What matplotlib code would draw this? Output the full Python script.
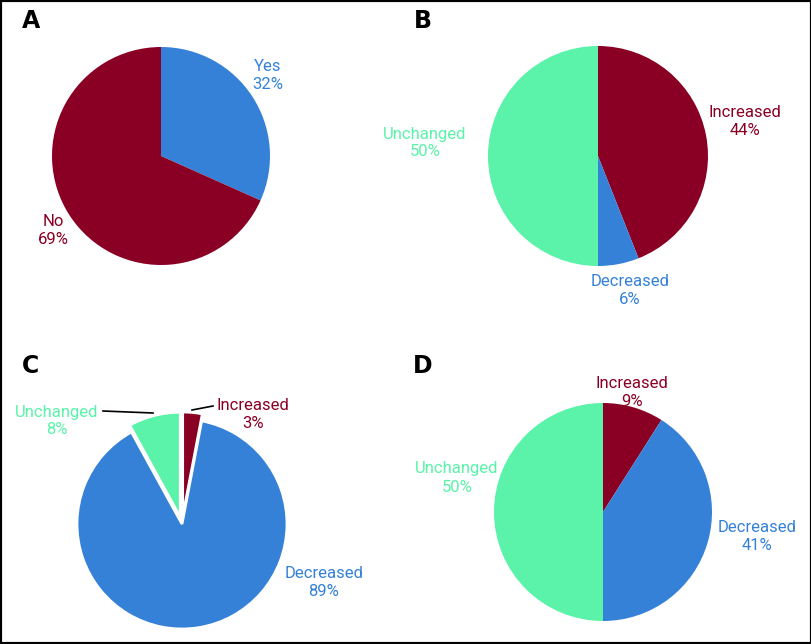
import matplotlib
matplotlib.use('Agg')
import matplotlib.pyplot as plt
from matplotlib.patches import Rectangle

# colours
RED = '#8A0025'
BLUE = '#3581D8'
GREEN = '#5BF2AA'

# Panel A: any change?
a_labels = ['Yes', 'No']
a_values = [32, 69]
a_colors = [BLUE, RED]

# Panel B
b_labels = ['Increased', 'Decreased', 'Unchanged']
b_values = [44, 6, 50]
b_colors = [RED, BLUE, GREEN]

# Panel C
c_labels = ['Increased', 'Decreased', 'Unchanged']
c_values = [3, 89, 8]
c_colors = [RED, BLUE, GREEN]

# Panel D
d_labels = ['Increased', 'Decreased', 'Unchanged']
d_values = [9, 41, 50]
d_colors = [RED, BLUE, GREEN]

W, H = 812, 644
plt.rcParams['font.family'] = ['Roboto', 'DejaVu Sans']

fig = plt.figure(figsize=(W / 100, H / 100), dpi=100)
ax = fig.add_axes([0, 0, 1, 1])


def py(y):
    # pixel row (from top) -> data y
    return H - y


def draw_pie(values, colors, cx, cy, r, explode=None, edge=None):
    wp = {'linewidth': 0}
    if edge:
        wp = {'edgecolor': 'white', 'linewidth': edge}
    ax.pie(values, colors=colors, startangle=90, counterclock=False,
           center=(cx, py(cy)), radius=r, explode=explode,
           wedgeprops=wp, frame=True)


def label(text, x, y, color):
    ax.text(x, py(y), text, color=color, fontsize=12, ha='center',
            va='center', linespacing=1.25)


draw_pie(a_values, a_colors, 161, 156, 109)
draw_pie(b_values, b_colors, 598, 156, 110)
# explode is in data units here (pixels)
draw_pie(c_values, c_colors, 182, 524, 105, explode=[7, 0, 7], edge=2)
draw_pie(d_values, d_colors, 603, 512, 109)

ax.set_xlim(0, W)
ax.set_ylim(0, H)
ax.set_aspect('equal')
ax.axis('off')

# slice labels
label(a_labels[0] + '\n32%', 268, 75, BLUE)
label(a_labels[1] + '\n69%', 53, 231, RED)

label(b_labels[0] + '\n44%', 745, 121, RED)
label(b_labels[1] + '\n6%', 630, 291, BLUE)
label(b_labels[2] + '\n50%', 425, 143, GREEN)

label(c_labels[0] + '\n3%', 253, 414, RED)
label(c_labels[1] + '\n89%', 324, 582, BLUE)
label(c_labels[2] + '\n8%', 57, 421, GREEN)

label(d_labels[0] + '\n9%', 632, 392, RED)
label(d_labels[1] + '\n41%', 757, 536, BLUE)
label(d_labels[2] + '\n50%', 457, 478, GREEN)

# leader lines in panel C
ax.plot([103, 153], [py(411), py(413)], color='black', lw=1.2)
ax.plot([192, 213], [py(410), py(406)], color='black', lw=1.2)

# panel letters
for letter, x, y in [('A', 31, 21), ('B', 423, 21), ('C', 31, 366), ('D', 423, 366)]:
    ax.text(x, py(y), letter, fontsize=17, fontweight='bold', ha='center',
            va='center', family=['Liberation Sans Narrow', 'DejaVu Sans'])

# frame round the figure
fig.patches.append(Rectangle((0, 0), 1, 1, transform=fig.transFigure,
                             fill=False, edgecolor='black', lw=3))

fig.savefig('out.png', dpi=100)
